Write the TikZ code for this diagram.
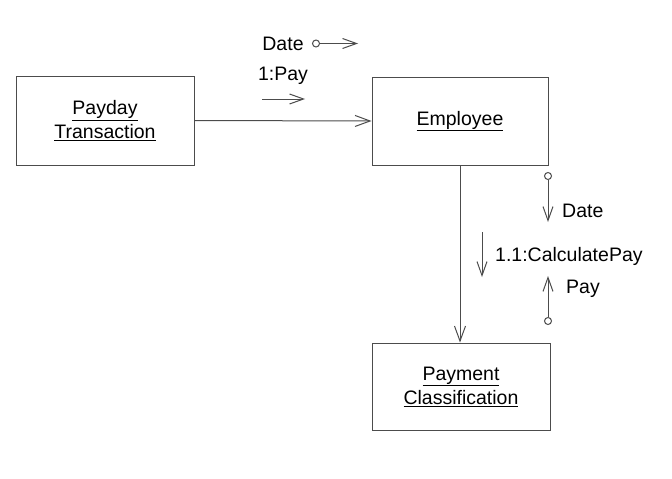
\documentclass[tikz,border=0pt]{standalone}
\usepackage{fontspec}
\setmainfont{Liberation Sans}
\usetikzlibrary{arrows.meta}
\tikzset{
  obj/.style={draw=black!70, line width=1pt, fill=white, minimum width=178pt, minimum height=89pt, align=center, font=\fontsize{19.5}{24}\selectfont, inner sep=0pt},
  lbl/.style={font=\fontsize{19.5}{22}\selectfont, inner sep=0pt},
  conn/.style={draw=black!70, line width=1pt, -{Straight Barb[length=15pt,width=11pt,line width=1pt]}},
  msg/.style={draw=black!70, line width=1pt, -{Straight Barb[length=14pt,width=10pt,line width=1pt]}},
  dot/.style={circle, draw=black!70, line width=1pt, fill=white, minimum size=7pt, inner sep=0pt},
}
\begin{document}
\begin{tikzpicture}[x=1pt,y=-1pt]
\useasboundingbox (0,0) rectangle (672,479);
\node[obj] (pt) at (105,120.5) {\underline{Payday}\\\underline{Transaction}};
\node[obj, minimum width=176pt, minimum height=88pt] (emp) at (460,121) {\underline{Employee}};
\node[obj, minimum height=87pt] (pc) at (461,386.5) {\underline{Payment}\\\underline{Classification}};
\draw[conn] (pt.east) -- (emp.west);
\draw[conn] (emp.south) -- (emp.south |- pc.north);
% Date message (top)
\node[lbl] (datetop) at (283,44) {Date};
\node[dot] (d1) at (316,43.5) {};
\coordinate (d1e) at (358,43.5);
\draw[msg] (d1) -- (d1e);
% 1:Pay
\node[lbl] (pay1) at (283,76) {1:Pay};
\coordinate (p1s) at (262,99);
\coordinate (p1e) at (305,99);
\draw[msg] (p1s) -- (p1e);
% Date down
\node[dot] (d2) at (548,176) {};
\coordinate (d2e) at (548,222);
\draw[msg] (d2) -- (d2e);
\node[lbl, anchor=west] (date2) at (562,211) {Date};
% 1.1:CalculatePay
\coordinate (cps) at (482,232);
\coordinate (cpe) at (482,277);
\draw[msg] (cps) -- (cpe);
\node[lbl, anchor=west] (calc) at (495,256) {1.1:CalculatePay};
% Pay up
\node[dot] (d3) at (548,321) {};
\coordinate (d3e) at (548,276);
\draw[msg] (d3) -- (d3e);
\node[lbl, anchor=west] (pay2) at (566,289) {Pay};
\end{tikzpicture}
\end{document}
